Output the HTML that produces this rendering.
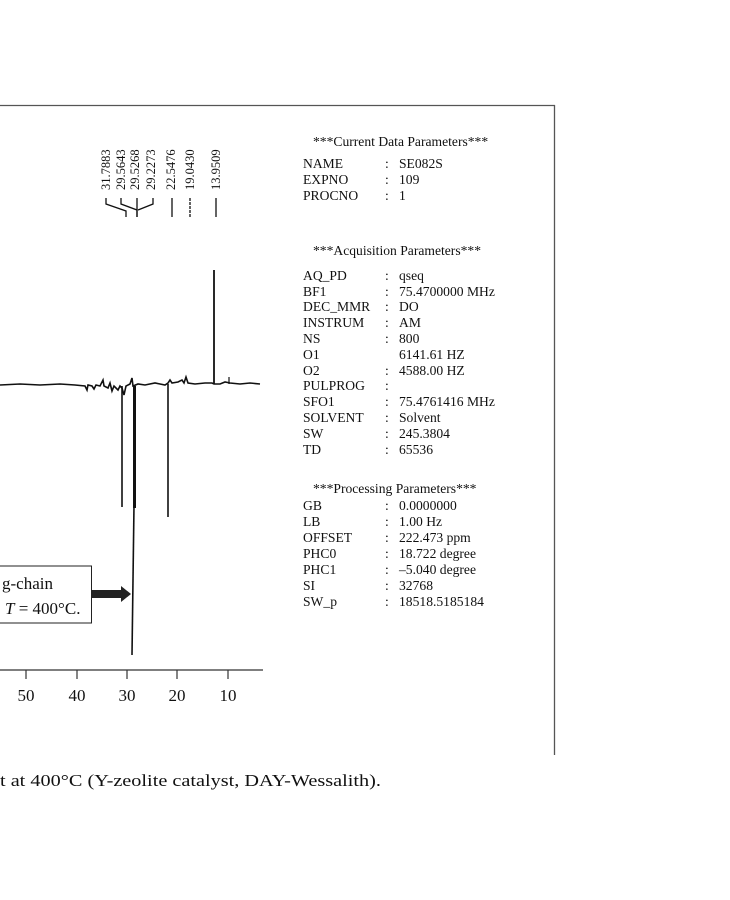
<!DOCTYPE html>
<html><head><meta charset="utf-8"><style>
body{margin:0;background:#fff;}
svg{display:block;}
text{font-family:"Liberation Serif",serif;fill:#111;}
</style></head><body>
<svg width="730" height="900" viewBox="0 0 730 900" xmlns="http://www.w3.org/2000/svg">
<line x1="0" y1="105.5" x2="555" y2="105.5" stroke="#555" stroke-width="1.3"/>
<line x1="554.5" y1="105" x2="554.5" y2="755" stroke="#555" stroke-width="1.3"/>
<g font-size="12.5">
<text transform="translate(110,190) rotate(-90)">31.7883</text>
<text transform="translate(125,190) rotate(-90)">29.5643</text>
<text transform="translate(139,190) rotate(-90)">29.5268</text>
<text transform="translate(155,190) rotate(-90)">29.2273</text>
<text transform="translate(175,190) rotate(-90)">22.5476</text>
<text transform="translate(194,190) rotate(-90)">19.0430</text>
<text transform="translate(220,190) rotate(-90)">13.9509</text>
</g>
<g stroke="#111" stroke-width="1.3" fill="none">
<path d="M106,198 v6 l20,7 v6"/>
<path d="M121,198 v6 l16,6 v7"/>
<path d="M137,198 v19"/>
<path d="M153,198 v6 l-15,6"/>
<line x1="172" y1="198" x2="172" y2="217"/>
<line x1="190" y1="198" x2="190" y2="217" stroke-dasharray="3,1"/>
<line x1="216" y1="198" x2="216" y2="217"/>
</g>
<polyline fill="none" stroke="#111" stroke-width="1.6" points="0,385 20,384 40,385 60,384 75,385 85,386 87,390 88,385 92,386 94,389 96,385 100,386 103,380 104,386 108,388 110,383 112,391 114,386 118,390 120,386 122,388 124,395 126,386 130,384 132,378 133,386 138,384 145,385 155,383 160,384 165,385 168,383 170,380 172,383 178,382 182,380 184,383 186,377 188,383 195,384 205,383 212,383 214,384 220,384 225,382 230,383 240,384 250,383 260,384"/>
<g stroke="#111" fill="none">
<line x1="214" y1="384" x2="214" y2="270" stroke-width="1.8"/>
<line x1="229" y1="384" x2="229" y2="377" stroke-width="1.2"/>
<line x1="122" y1="386" x2="122" y2="507" stroke-width="1.6"/>
<line x1="134.5" y1="386" x2="134.5" y2="508" stroke-width="3"/>
<line x1="134" y1="505" x2="132" y2="655" stroke-width="1.6"/>
<line x1="168" y1="384" x2="168" y2="517" stroke-width="1.6"/>
</g>
<line x1="0" y1="670" x2="263" y2="670" stroke="#333" stroke-width="1.2"/>
<g stroke="#333" stroke-width="1.2">
<line x1="26" y1="670" x2="26" y2="679"/><line x1="77" y1="670" x2="77" y2="679"/>
<line x1="127" y1="670" x2="127" y2="679"/><line x1="177" y1="670" x2="177" y2="679"/>
<line x1="228" y1="670" x2="228" y2="679"/>
</g>
<g font-size="17" text-anchor="middle">
<text x="26" y="701">50</text><text x="77" y="701">40</text><text x="127" y="701">30</text><text x="177" y="701">20</text><text x="228" y="701">10</text>
</g>
<rect x="-2" y="566" width="93.5" height="57" fill="#fff" stroke="#222" stroke-width="1"/>
<text x="2" y="589" font-size="17">g-chain</text>
<text x="5" y="614" font-size="17"><tspan font-style="italic">T</tspan> = 400°C.</text>
<rect x="92" y="590" width="30" height="8" fill="#222"/>
<polygon points="121,586 131,594 121,602" fill="#222"/>
<g font-size="13.6">
<text x="313" y="146">***Current Data Parameters***</text>
<text x="303" y="168">NAME</text><text x="385" y="168">:</text><text x="399" y="168">SE082S</text>
<text x="303" y="184">EXPNO</text><text x="385" y="184">:</text><text x="399" y="184">109</text>
<text x="303" y="200">PROCNO</text><text x="385" y="200">:</text><text x="399" y="200">1</text>
<text x="313" y="255">***Acquisition Parameters***</text>
<text x="303" y="280">AQ_PD</text><text x="385" y="280">:</text><text x="399" y="280">qseq</text>
<text x="303" y="296">BF1</text><text x="385" y="296">:</text><text x="399" y="296">75.4700000 MHz</text>
<text x="303" y="311">DEC_MMR</text><text x="385" y="311">:</text><text x="399" y="311">DO</text>
<text x="303" y="327">INSTRUM</text><text x="385" y="327">:</text><text x="399" y="327">AM</text>
<text x="303" y="343">NS</text><text x="385" y="343">:</text><text x="399" y="343">800</text>
<text x="303" y="359">O1</text><text x="399" y="359">6141.61 HZ</text>
<text x="303" y="375">O2</text><text x="385" y="375">:</text><text x="399" y="375">4588.00 HZ</text>
<text x="303" y="390">PULPROG</text><text x="385" y="390">:</text>
<text x="303" y="406">SFO1</text><text x="385" y="406">:</text><text x="399" y="406">75.4761416 MHz</text>
<text x="303" y="422">SOLVENT</text><text x="385" y="422">:</text><text x="399" y="422">Solvent</text>
<text x="303" y="438">SW</text><text x="385" y="438">:</text><text x="399" y="438">245.3804</text>
<text x="303" y="454">TD</text><text x="385" y="454">:</text><text x="399" y="454">65536</text>
<text x="313" y="493">***Processing Parameters***</text>
<text x="303" y="510">GB</text><text x="385" y="510">:</text><text x="399" y="510">0.0000000</text>
<text x="303" y="526">LB</text><text x="385" y="526">:</text><text x="399" y="526">1.00 Hz</text>
<text x="303" y="542">OFFSET</text><text x="385" y="542">:</text><text x="399" y="542">222.473 ppm</text>
<text x="303" y="558">PHC0</text><text x="385" y="558">:</text><text x="399" y="558">18.722 degree</text>
<text x="303" y="574">PHC1</text><text x="385" y="574">:</text><text x="399" y="574">–5.040 degree</text>
<text x="303" y="590">SI</text><text x="385" y="590">:</text><text x="399" y="590">32768</text>
<text x="303" y="606">SW_p</text><text x="385" y="606">:</text><text x="399" y="606">18518.5185184</text>
</g>
<text x="0" y="786" font-size="17" textLength="381" lengthAdjust="spacingAndGlyphs">t at 400°C (Y-zeolite catalyst, DAY-Wessalith).</text>
</svg>
</body></html>
